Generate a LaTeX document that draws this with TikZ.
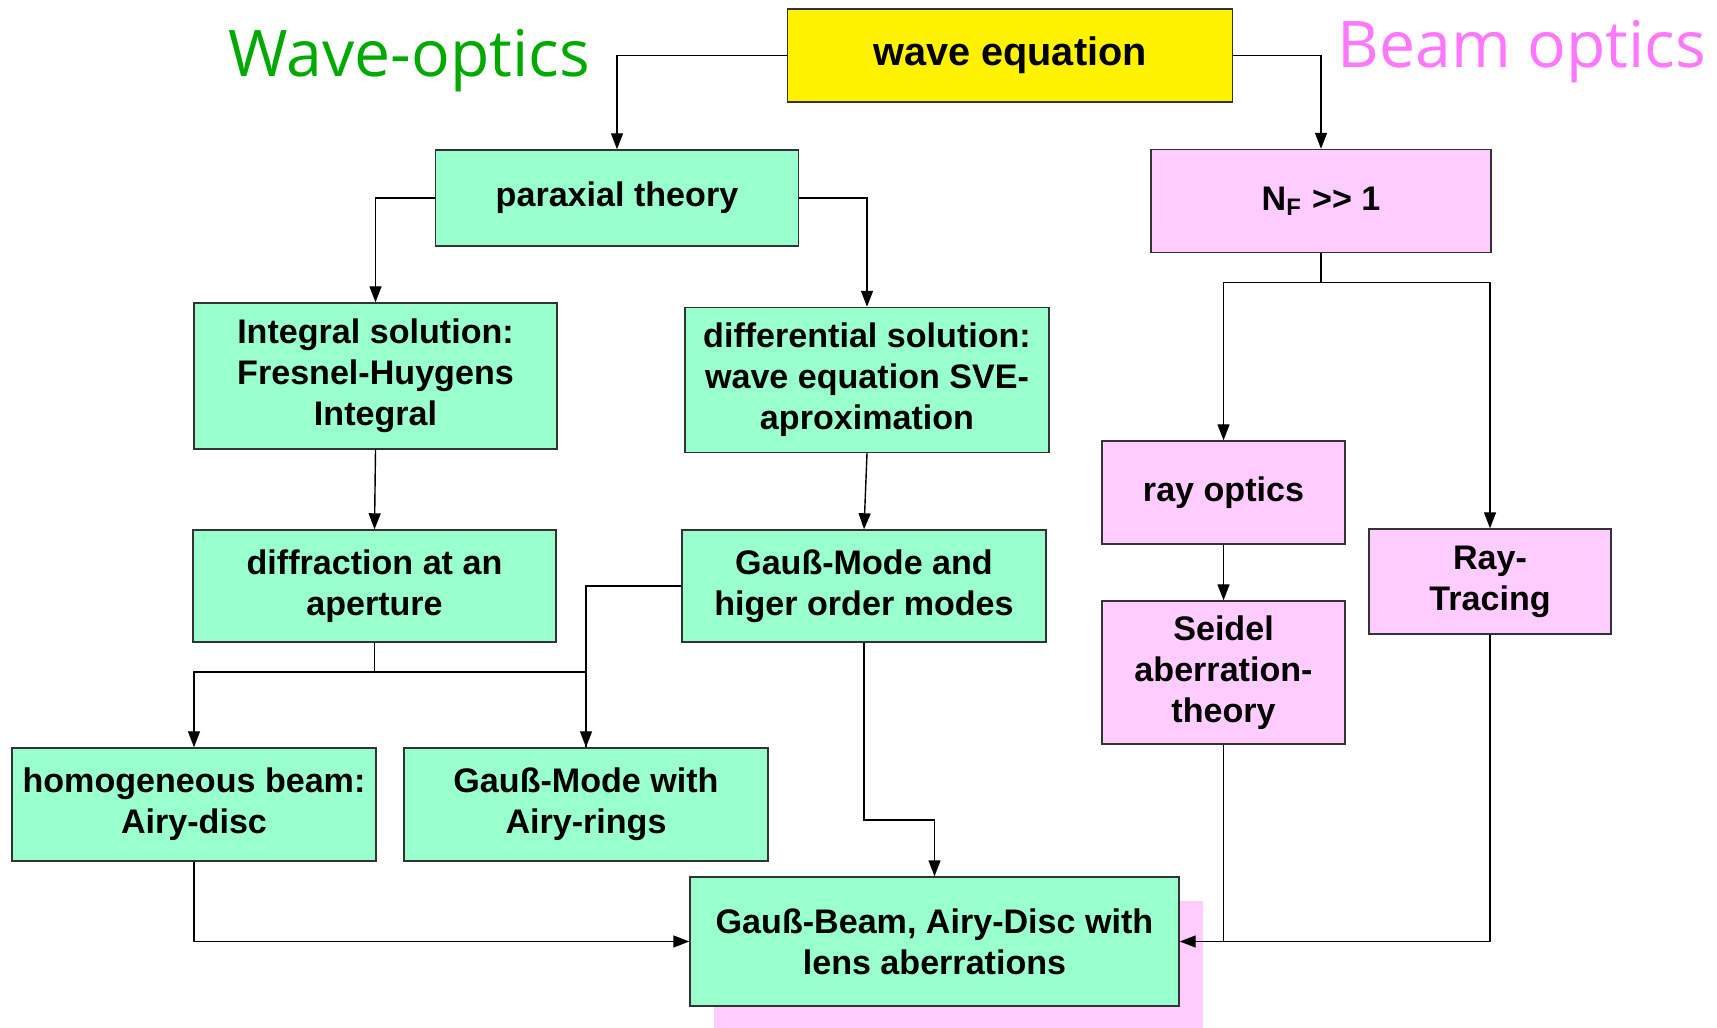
\documentclass[tikz,border=0pt]{standalone}
\usepackage{fontspec}
\setmainfont{Liberation Sans}
\newfontfamily\titlefont{Open Sans}
\usetikzlibrary{arrows.meta,shadows}
\definecolor{wavegreen}{RGB}{153,255,204}
\definecolor{beampink}{RGB}{255,204,255}
\definecolor{titlegreen}{RGB}{0,170,0}
\definecolor{titlepink}{RGB}{255,119,255}
\begin{document}
\begin{tikzpicture}[x=0.1mm, y=-0.1mm, >={Triangle[length=1.6mm,width=1.2mm]},
    box/.style={draw=black!80, line width=0.4pt, align=center, inner sep=0pt,
      font=\fontsize{9.7}{11.7}\selectfont\bfseries},
    wavebox/.style={box, fill=wavegreen},
    beambox/.style={box, fill=beampink},
    title/.style={anchor=base, font=\titlefont\fontsize{18.3}{20}\selectfont}]
    \useasboundingbox (0,0) rectangle (1717,1028);

    % headings
    \node[title, text=titlegreen] (wavetitle) at (409,77) {Wave-optics};
    \node[title, text=titlepink] (beamtitle) at (1522,68) {Beam optics};

    % boxes
    \node[box, fill=yellow, minimum width=44.5mm, minimum height=9.3mm,
      font=\fontsize{11.3}{13}\selectfont\bfseries] (wave) at (1010,55.5) {wave equation};
    \node[wavebox, minimum width=36.3mm, minimum height=9.6mm] (parax) at (617,198) {paraxial theory};
    \node[beambox, minimum width=34mm, minimum height=10.3mm] (nf) at (1321,201) {N\textsubscript{F} >{}> 1};
    \node[wavebox, minimum width=36.3mm, minimum height=14.6mm] (integ) at (375.5,376) {Integral solution:\\Fresnel-Huygens\\Integral};
    \node[wavebox, minimum width=36.4mm, minimum height=14.5mm] (diffsol) at (867,380) {differential solution:\\wave equation SVE-\\aproximation};
    \node[beambox, minimum width=24.3mm, minimum height=10.3mm] (rayopt) at (1223.5,492.5) {ray optics};
    \node[wavebox, minimum width=36.3mm, minimum height=11.2mm] (aper) at (374.5,586) {diffraction at an\\aperture};
    \node[wavebox, minimum width=36.4mm, minimum height=11.2mm] (gmode) at (864,586) {Gauß-Mode and\\higer order modes};
    \node[beambox, minimum width=24.3mm, minimum height=14.3mm] (seidel) at (1223.5,672.5) {Seidel\\aberration-\\theory};
    \node[beambox, minimum width=24.2mm, minimum height=10.5mm] (raytr) at (1490,581.5) {Ray-\\Tracing};
    \node[wavebox, minimum width=36.4mm, minimum height=11.3mm] (homog) at (194,804.5) {homogeneous beam:\\Airy-disc};
    \node[wavebox, minimum width=36.4mm, minimum height=11.3mm] (airyr) at (586,804.5) {Gauß-Mode with\\Airy-rings};
    \node[wavebox, minimum width=48.9mm, minimum height=12.9mm,
      drop shadow={shadow xshift=2.4mm, shadow yshift=-2.4mm, fill=beampink, opacity=1}]
      (beam) at (934.5,941.5) {Gauß-Beam, Airy-Disc with\\lens aberrations};

    % wave optics branch
    \draw[->] (wave.west) -| (parax.north);
    \draw[->] (parax.west) -| (integ.north);
    \draw[->] (parax.east) -| (diffsol.north);
    \draw[->] (integ.south) -- (aper.north);
    \draw[->] (diffsol.south) -- (gmode.north);
    \coordinate (asplit) at (374.5,672);
    \draw (aper.south) -- (asplit);
    \draw[->] (asplit) -| (homog.north);
    \draw[->] (asplit) -| (airyr.north);
    \draw (gmode.west) -| (airyr.north);
    \coordinate (gbend) at (864,820);
    \draw[->] (gmode.south) -- (gbend) -| (beam.north);
    \draw[->] (homog.south) |- (beam.west);

    % beam optics branch
    \draw[->] (wave.east) -| (nf.north);
    \coordinate (nsplit) at (1321,282.5);
    \draw (nf.south) -- (nsplit);
    \draw[->] (nsplit) -| (rayopt.north);
    \draw[->] (nsplit) -| (raytr.north);
    \draw[->] (rayopt.south) -- (seidel.north);
    \draw[->] (raytr.south) |- (beam.east);
    \draw (seidel.south) -- (seidel.south |- beam.east);
\end{tikzpicture}
\end{document}
